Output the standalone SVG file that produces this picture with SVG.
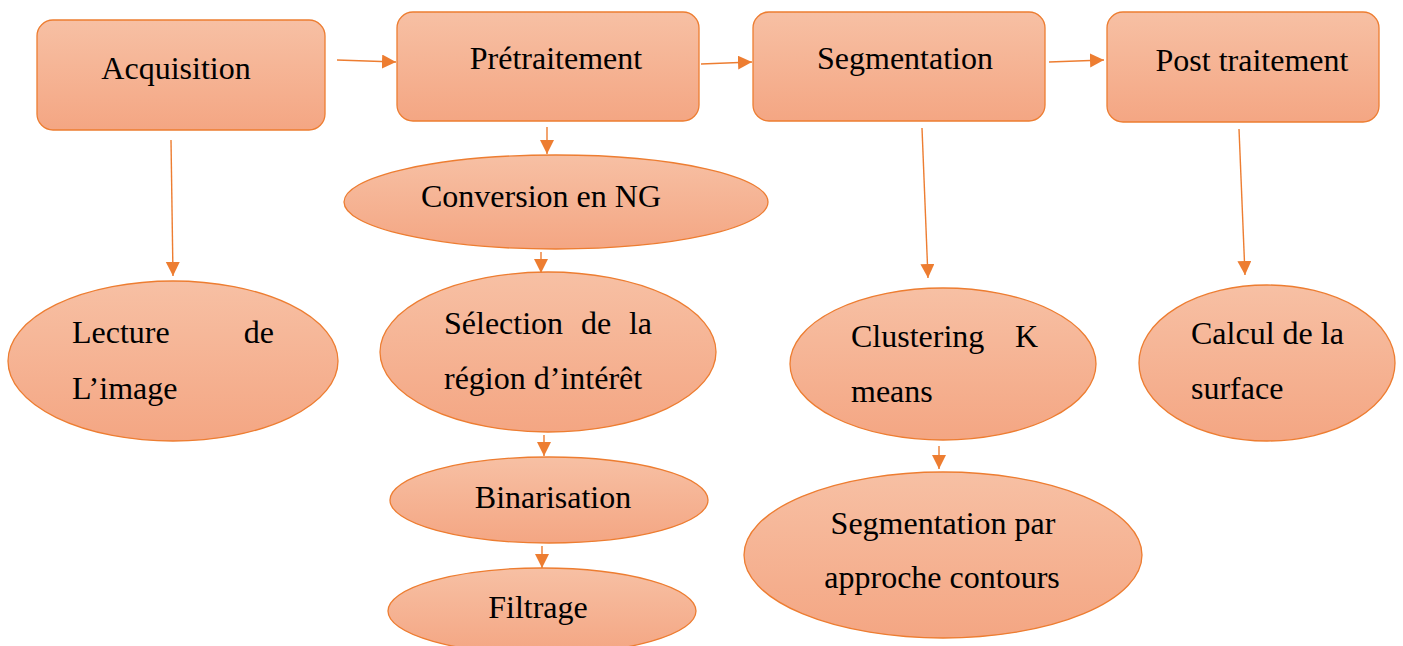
<svg xmlns="http://www.w3.org/2000/svg" width="1403" height="646" viewBox="0 0 1403 646">
<style>
.n{fill:url(#g);stroke:#ED7D31;stroke-width:1.3}
.t{font-family:"Liberation Serif","Times New Roman",serif;font-size:32px;fill:#000}
.c{stroke:#ED7D31;stroke-width:1.4;fill:none;marker-end:url(#a)}
</style>
<defs>
<linearGradient id="g" x1="0" y1="0" x2="0" y2="1">
<stop offset="0" stop-color="#F7C0A4"/>
<stop offset="1" stop-color="#F4A683"/>
</linearGradient>
<marker id="a" markerUnits="userSpaceOnUse" markerWidth="16" markerHeight="16" refX="14" refY="7" orient="auto">
<path d="M0,0 L14,7 L0,14 Z" fill="#ED7D31"/>
</marker>
</defs>
<rect width="1403" height="646" fill="#fff"/>
<g id="connectors">
<line class="c" x1="337" y1="60" x2="396" y2="62"/>
<line class="c" x1="701" y1="64" x2="752" y2="62"/>
<line class="c" x1="1049" y1="62" x2="1104" y2="60"/>
<line class="c" x1="171" y1="140" x2="173" y2="276"/>
<line class="c" x1="547" y1="127" x2="547" y2="154"/>
<line class="c" x1="541" y1="252" x2="541" y2="273"/>
<line class="c" x1="544" y1="435" x2="544" y2="456"/>
<line class="c" x1="542" y1="546" x2="542" y2="568"/>
<line class="c" x1="922" y1="128" x2="928" y2="278"/>
<line class="c" x1="939" y1="446" x2="939" y2="469"/>
<line class="c" x1="1239" y1="129" x2="1245" y2="275"/>
</g>
<g id="acquisition">
<rect class="n" x="37" y="20" width="288" height="110" rx="16"/>
<text class="t" x="176" y="79" text-anchor="middle">Acquisition</text>
</g>
<g id="pretraitement">
<rect class="n" x="397" y="12" width="302" height="109" rx="16"/>
<text class="t" x="556" y="69" text-anchor="middle">Prétraitement</text>
</g>
<g id="segmentation">
<rect class="n" x="753" y="12" width="292" height="109" rx="16"/>
<text class="t" x="905" y="69" text-anchor="middle">Segmentation</text>
</g>
<g id="post-traitement">
<rect class="n" x="1107" y="12" width="272" height="110" rx="16"/>
<text class="t" x="1252" y="71" text-anchor="middle">Post traitement</text>
</g>
<g id="lecture">
<ellipse class="n" cx="173" cy="361" rx="165" ry="80"/>
<text class="t"><tspan x="72" y="343">Lecture</tspan><tspan x="274" y="343" text-anchor="end">de</tspan><tspan x="72" y="399">L’image</tspan></text>
</g>
<g id="conversion">
<ellipse class="n" cx="556" cy="202" rx="212" ry="47"/>
<text class="t" x="541" y="207" text-anchor="middle">Conversion en NG</text>
</g>
<g id="selection">
<ellipse class="n" cx="548" cy="352" rx="168" ry="80"/>
<text class="t"><tspan x="444" y="334">Sélection</tspan><tspan x="581" y="334">de</tspan><tspan x="652" y="334" text-anchor="end">la</tspan><tspan x="444" y="389">région d’intérêt</tspan></text>
</g>
<g id="binarisation">
<ellipse class="n" cx="549" cy="500" rx="159" ry="43"/>
<text class="t" x="553" y="508" text-anchor="middle">Binarisation</text>
</g>
<g id="filtrage">
<ellipse class="n" cx="542" cy="611" rx="154" ry="43"/>
<text class="t" x="538" y="618" text-anchor="middle">Filtrage</text>
</g>
<g id="clustering">
<ellipse class="n" cx="943" cy="364" rx="153" ry="76"/>
<text class="t"><tspan x="851" y="347">Clustering</tspan><tspan x="1038" y="347" text-anchor="end">K</tspan><tspan x="851" y="402">means</tspan></text>
</g>
<g id="contours">
<ellipse class="n" cx="943" cy="555" rx="199" ry="83"/>
<text class="t" text-anchor="middle"><tspan x="943" y="534">Segmentation par</tspan><tspan x="942" y="588">approche contours</tspan></text>
</g>
<g id="calcul">
<ellipse class="n" cx="1267" cy="363" rx="128" ry="78"/>
<text class="t"><tspan x="1191" y="344">Calcul de la</tspan><tspan x="1191" y="399">surface</tspan></text>
</g>
</svg>
